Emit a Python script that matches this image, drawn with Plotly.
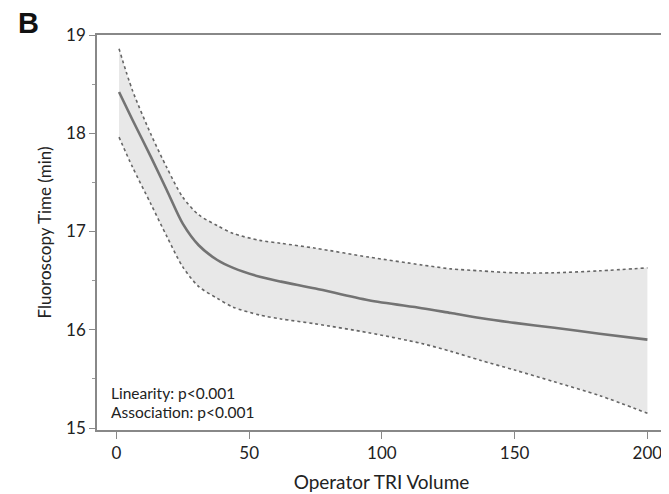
import plotly.graph_objects as go

volume = [1, 6, 13, 19, 25, 31, 38, 44, 54, 62, 75, 95, 115, 126, 137, 150, 165, 182, 200]
fit = [18.42, 18.14, 17.76, 17.42, 17.08, 16.86, 16.71, 16.63, 16.54, 16.49, 16.42, 16.30, 16.22,
       16.17, 16.12, 16.07, 16.02, 15.96, 15.90]
upper = [18.86, 18.44, 17.99, 17.65, 17.35, 17.17, 17.06, 16.98, 16.91, 16.88, 16.83, 16.74, 16.66,
         16.62, 16.60, 16.58, 16.58, 16.60, 16.63]
lower = [17.96, 17.66, 17.28, 16.95, 16.64, 16.44, 16.32, 16.23, 16.15, 16.11, 16.06, 15.97, 15.86,
         15.78, 15.69, 15.59, 15.47, 15.33, 15.15]
x_ticks = [0, 50, 100, 150, 200]
y_ticks = [15, 16, 17, 18, 19]

FONT = "Lato, Open Sans, sans-serif"
W, H = 661, 486
L, T, R, B = 89, 27, 3, 64
PW, PH = W - L - R, H - T - B

fig = go.Figure()
fig.add_trace(go.Scatter(x=volume, y=lower, mode="lines",
                         line=dict(color="#666", width=1.6, dash="dot", shape="spline", smoothing=0.8),
                         showlegend=False, hoverinfo="skip"))
fig.add_trace(go.Scatter(x=volume, y=upper, mode="lines",
                         line=dict(color="#666", width=1.6, dash="dot", shape="spline", smoothing=0.8),
                         fill="tonexty", fillcolor="#e8e8e8", showlegend=False, hoverinfo="skip"))
fig.add_trace(go.Scatter(x=volume, y=fit, mode="lines",
                         line=dict(color="#737373", width=2.6, shape="spline", smoothing=0.8),
                         showlegend=False))

fig.update_layout(
    width=W, height=H,
    margin=dict(l=L, r=R, t=T, b=B, autoexpand=False),
    paper_bgcolor="white", plot_bgcolor="white",
    font=dict(family=FONT, size=16, color="#222"),
    xaxis=dict(range=[-7.3, 207], tickvals=x_ticks, ticks="outside", ticklen=7, tickcolor="#888",
               showline=True, linecolor="#888", linewidth=1.5, mirror=True, showgrid=False, zeroline=False,
               title=dict(text="Operator TRI Volume", font=dict(size=19), standoff=14),
               tickfont=dict(size=17), automargin=False),
    yaxis=dict(range=[14.98, 19.0], tickvals=y_ticks, ticks="outside", ticklen=6, tickcolor="#888",
               showline=True, linecolor="#888", linewidth=1.5, mirror=True, showgrid=False, zeroline=False,
               minor=dict(tickvals=[15.5, 16.5, 17.5, 18.5], ticks="outside", ticklen=3, tickcolor="#999"),
               title=dict(text="Fluoroscopy Time (min)", font=dict(size=17), standoff=10),
               tickfont=dict(size=17), automargin=False),
    annotations=[
        dict(text="<b>B</b>", xref="paper", yref="paper", x=(8 - L) / PW, y=1 + (T + 3) / PH,
             xanchor="left", yanchor="top",
             showarrow=False, font=dict(size=29, family="Arial, Liberation Sans", color="#111")),
        dict(text="Linearity: p<0.001", xref="paper", yref="paper", x=12 / PW, y=(422 - 385) / PH,
             xanchor="left", yanchor="middle", showarrow=False, font=dict(size=15.5)),
        dict(text="Association: p<0.001", xref="paper", yref="paper", x=12 / PW, y=(422 - 404) / PH,
             xanchor="left", yanchor="middle", showarrow=False, font=dict(size=15.5)),
    ],
)
fig.write_html("out.html")
